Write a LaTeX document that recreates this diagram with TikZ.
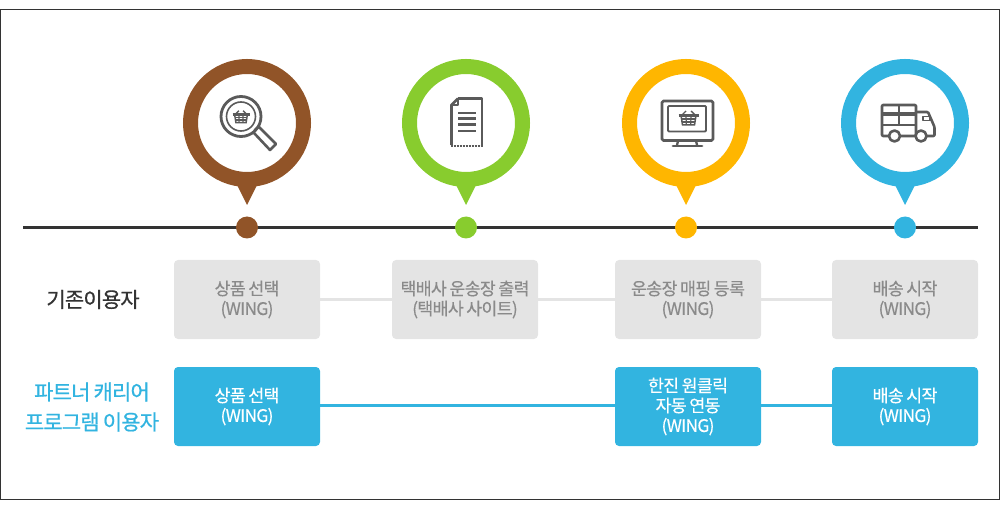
\documentclass[tikz,border=0pt]{standalone}
\usepackage{fontspec}
\setmainfont[LetterSpace=-4,WordSpace=0.8,FakeBold=0.3]{Noto Sans CJK KR}
\definecolor{brownpin}{HTML}{915428}
\definecolor{greenpin}{HTML}{88CC2E}
\definecolor{yellowpin}{HTML}{FFB600}
\definecolor{bluepin}{HTML}{32B4E0}
\definecolor{greybox}{HTML}{E4E4E4}
\definecolor{greytext}{HTML}{8A8A8A}
\definecolor{iconline}{HTML}{5A5A5A}
\definecolor{timeline}{HTML}{333333}
\tikzset{
  ring/.style={circle,draw=#1,line width=15pt,fill=white,minimum size=113pt,inner sep=0pt},
  dot/.style={circle,fill=#1,minimum size=22pt,inner sep=0pt},
  oldbox/.style={fill=greybox,rounded corners=4pt,minimum width=146pt,minimum height=79pt,inner sep=0pt,
    text=greytext,align=center,font=\fontsize{17.3}{20}\selectfont,
    execute at begin node=\rule{0pt}{17.5pt}},
  newbox/.style={oldbox,fill=bluepin,text=white},
  oldlink/.style={greybox,line width=3pt},
  newlink/.style={bluepin,line width=3pt},
  rowlabel/.style={align=center,font=\fontsize{21}{30}\selectfont\addfontfeatures{FakeBold=0.7}},
  icon/.style={iconline,line width=2.3pt,line join=round}
}
% basket at rim centre
\newcommand{\drawbasket}[3]{
\begin{scope}[shift={(#1,#2)},scale=#3]
\draw[iconline,line width=1.4pt] (-6.5,-0.5) -- (-2.5,-4.5);
\draw[iconline,line width=1.4pt] (6.5,-0.5) -- (2.5,-4.5);
\draw[iconline,line width=2.2pt] (-10,0) -- (10,0);
\draw[iconline,line width=1.5pt] (-7.5,0) -- (-6,9.5) -- (6,9.5) -- (7.5,0);
\draw[iconline,line width=1.2pt] (-7,3.5) -- (7,3.5);
\draw[iconline,line width=1.2pt] (-6.6,6.5) -- (6.6,6.5);
\draw[iconline,line width=1.2pt] (-2.5,0) -- (-2.2,9.5);
\draw[iconline,line width=1.2pt] (2.5,0) -- (2.2,9.5);
\end{scope}
}
\begin{document}
\begin{tikzpicture}[x=1pt,y=-1pt]
\useasboundingbox (0,0) rectangle (1000,510);
\draw[timeline,line width=1pt] (0.5,10) rectangle (999.5,499.5);

% Time line
\coordinate (lineL) at (23,227.5);
\coordinate (lineR) at (978,227.5);
\draw[timeline,line width=3pt] (lineL) -- (lineR);

% Pins
\fill[brownpin] (236,183) -- (247,205) -- (258,183) -- cycle;
\fill[greenpin] (455,183) -- (466,205) -- (477,183) -- cycle;
\fill[yellowpin] (675,183) -- (686,205) -- (697,183) -- cycle;
\fill[bluepin] (894,183) -- (905,205) -- (916,183) -- cycle;
\node[ring=brownpin] (pinA) at (247,123) {};
\node[ring=greenpin] (pinB) at (466,123) {};
\node[ring=yellowpin] (pinC) at (686,123) {};
\node[ring=bluepin] (pinD) at (905,123) {};
\node[dot=brownpin] (dotA) at (247,227.5) {};
\node[dot=greenpin] (dotB) at (466,227.5) {};
\node[dot=yellowpin] (dotC) at (686,227.5) {};
\node[dot=bluepin] (dotD) at (905,227.5) {};

% Magnifier icon
\draw[icon,line width=2.8pt] (241,116.5) circle (20);
\draw[icon,line width=1.6pt] (241,116.5) circle (14.5);
\draw[icon,line width=2.6pt] (254.5,130.5) -- (258.5,126.5) -- (276,144) -- (270,150) -- (254,133);
\drawbasket{241}{114.5}{0.85}

% Waybill icon
\draw[icon,line width=2.8pt] (458,98.5) -- (482,98.5) -- (482,145);
\draw[icon,line width=2.8pt] (458,98.5) -- (451.5,105) -- (451.5,145);
\draw[icon,line width=1.8pt] (458,98.5) -- (458,105) -- (451.5,105);
\draw[iconline,line width=2.8pt,dash pattern=on 2pt off 1pt] (450.5,146) -- (483,146);
\draw[icon] (458,112.7) -- (476,112.7);
\draw[icon] (458,118.5) -- (476,118.5);
\draw[icon] (458,124.5) -- (476,124.5);
\draw[icon] (458,130.7) -- (476,130.7);

% Monitor icon
\draw[icon,line width=2.8pt,rounded corners=1.5pt] (662,101) rectangle (713,140.5);
\draw[icon,line width=1.9pt,rounded corners=1pt] (668,106) rectangle (706,131.5);
\draw[icon] (678,141) -- (677,145);
\draw[icon] (696,141) -- (697,145);
\draw[icon,line width=2.8pt,line cap=round] (673,146) -- (702,146);
\drawbasket{688.5}{115.5}{1}

% Truck icon
\draw[icon,line width=2.6pt,rounded corners=1pt] (917,136) -- (882,136) -- (882,105) -- (916,105) -- (916,136);
\draw[icon,line width=3.4pt] (882,114) -- (916,114);
\draw[icon,line width=2.4pt] (882,125) -- (916,125);
\draw[icon,line width=2.6pt] (899,105) -- (899,125);
\draw[icon,line width=2.6pt,rounded corners=1pt] (916,112) -- (928,112) -- (934.5,127) -- (934.5,136) -- (916,136);
\draw[icon,line width=1.6pt] (923,116.5) rectangle (930,120.5);
\draw[icon,fill=white,line width=2.6pt] (894.5,136) circle (5.5);
\draw[icon,fill=white,line width=2.6pt] (921,136) circle (5.5);

% Row labels
\node[rowlabel,text=timeline] (rowOld) at (93,299.5) {기존이용자};
\node[rowlabel,text=bluepin] (rowNew) at (92,407) {파트너 캐리어\\프로그램 이용자};

% Boxes
\node[oldbox] (oldA) at (247,299.5) {상품 선택\\(WING)};
\node[oldbox] (oldB) at (465,299.5) {택배사 운송장 출력\\(택배사 사이트)};
\node[oldbox] (oldC) at (688,299.5) {운송장 매핑 등록\\(WING)};
\node[oldbox] (oldD) at (905,299.5) {배송 시작\\(WING)};
\node[newbox] (newA) at (247,406.5) {상품 선택\\(WING)};
\node[newbox] (newC) at (688,406.5) {한진 원클릭\\자동 연동\\(WING)};
\node[newbox] (newD) at (905,406.5) {배송 시작\\(WING)};

% Links
\draw[oldlink] (oldA) -- (oldB);
\draw[oldlink] (oldB) -- (oldC);
\draw[oldlink] (oldC) -- (oldD);
\draw[newlink] ([yshift=1pt]newA.east) -- ([yshift=1pt]newC.west);
\draw[newlink] ([yshift=1pt]newC.east) -- ([yshift=1pt]newD.west);

\end{tikzpicture}
\end{document}
